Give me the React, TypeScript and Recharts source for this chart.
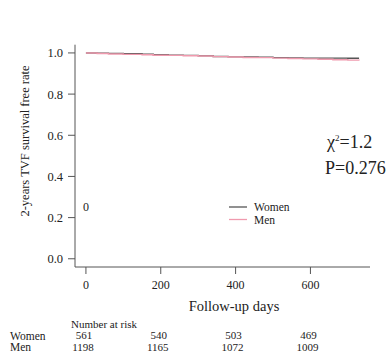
import React from 'react';
import { LineChart, Line, XAxis, YAxis, Legend } from 'recharts';

const days = [0, 30, 60, 100, 150, 180, 220, 260, 300, 340, 380, 420, 460, 500, 540, 580, 620, 660, 700, 730];
const women = [1.0, 0.999, 0.998, 0.996, 0.994, 0.991, 0.989, 0.988, 0.986, 0.983, 0.981, 0.980, 0.979, 0.977, 0.976, 0.975, 0.975, 0.975, 0.974, 0.974];
const men = [1.0, 0.997, 0.995, 0.993, 0.991, 0.989, 0.988, 0.986, 0.985, 0.982, 0.980, 0.978, 0.977, 0.975, 0.973, 0.971, 0.969, 0.967, 0.965, 0.963];
const xTicks = [0, 200, 400, 600];
const yTicks = [0, 0.2, 0.4, 0.6, 0.8, 1.0];
const riskTimes = [0, 200, 400, 600];
const womenRisk = [561, 540, 503, 469];
const menRisk = [1198, 1165, 1072, 1009];

const data = days.map((d, i) => ({ day: d, Women: women[i], Men: men[i] }));

const FONT = '"Liberation Serif", "DejaVu Serif", serif';
const AXIS = '#555';
const TEXT = '#222';
const WOMEN_COLOR = '#555555';
const MEN_COLOR = '#f09aae';

const X_DOMAIN: [number, number] = [-29.2, 759.2];
const PLOT_LEFT = 75;
const PLOT_RIGHT = 370;
const xPos = (v: number) => PLOT_LEFT + ((v - X_DOMAIN[0]) / (X_DOMAIN[1] - X_DOMAIN[0])) * (PLOT_RIGHT - PLOT_LEFT);

const renderLegend = (props: any) => {
  const items = [
    { name: 'Women', color: WOMEN_COLOR },
    { name: 'Men', color: MEN_COLOR },
  ];
  return (
    <svg width={110} height={30} style={{ overflow: 'visible' }}>
      {items.map((it, i) => (
        <g key={it.name}>
          <line x1={4} x2={22} y1={8 + i * 12.5} y2={8 + i * 12.5} stroke={it.color} strokeWidth={1.3} />
          <text x={29} y={8 + i * 12.5} dy="0.35em" fontFamily={FONT} fontSize={11.5} fill={TEXT}>{it.name}</text>
        </g>
      ))}
    </svg>
  );
};

export default function App() {
  return (
    <div style={{ position: 'absolute', left: 0, top: 0, width: 390, height: 353, background: '#fff' }}>
      <LineChart
        width={390}
        height={353}
        data={data}
        margin={{ top: 14.7, right: 20, bottom: 56, left: 0 }}
      >
        <XAxis
          dataKey="day"
          type="number"
          domain={X_DOMAIN}
          allowDataOverflow
          ticks={xTicks}
          height={30}
          tickSize={7}
          tickMargin={6}
          stroke={AXIS}
          tick={{ fontFamily: FONT, fontSize: 12, fill: TEXT }}
        />
        <YAxis
          type="number"
          domain={[-0.04, 1.04]}
          allowDataOverflow
          ticks={yTicks}
          width={75}
          tickSize={7}
          tickMargin={5}
          stroke={AXIS}
          tickFormatter={(v: number) => v.toFixed(1)}
          tick={{ fontFamily: FONT, fontSize: 12.5, fill: TEXT }}
        />
        <Legend
          verticalAlign="top"
          content={renderLegend}
          wrapperStyle={{ position: 'absolute', left: 225, top: 199, width: 110, height: 30 }}
        />
        <Line type="stepAfter" dataKey="Women" stroke={WOMEN_COLOR} strokeWidth={1.4} dot={false} isAnimationActive={false} />
        <Line type="stepAfter" dataKey="Men" stroke={MEN_COLOR} strokeWidth={1.4} dot={false} isAnimationActive={false} />
      </LineChart>
      <svg
        width={390}
        height={353}
        style={{ position: 'absolute', left: 0, top: 0, pointerEvents: 'none' }}
        fontFamily={FONT}
        fill={TEXT}
      >
        <text x={25} y={141} transform="rotate(-90 25 141)" textAnchor="middle" dy="0.35em" fontSize={12.5}>
          2-years TVF  survival free rate
        </text>
        <text x={234} y={306} textAnchor="middle" dy="0.35em" fontSize={14.5}>Follow-up days</text>
        <text x={86} y={207} textAnchor="middle" dy="0.35em" fontSize={12}>0</text>
        <text x={327} y={148} fontSize={18}>
          χ<tspan dy={-7} fontSize={9}>2</tspan><tspan dy={7}>=1.2</tspan>
        </text>
        <text x={325} y={168} dy="0.35em" fontSize={18}>P=0.276</text>
        <text x={71} y={324} dy="0.35em" fontSize={11}>Number at risk</text>
        <text x={10} y={335.5} dy="0.35em" fontSize={11.5}>Women</text>
        <text x={10} y={347} dy="0.35em" fontSize={11.5}>Men</text>
        {riskTimes.map((t, i) => (
          <text key={'w' + t} x={xPos(t) - 2} y={335.5} dy="0.35em" textAnchor="middle" fontSize={11}>{womenRisk[i]}</text>
        ))}
        {riskTimes.map((t, i) => (
          <text key={'m' + t} x={xPos(t) - 3} y={347} dy="0.35em" textAnchor="middle" fontSize={11}>{menRisk[i]}</text>
        ))}
      </svg>
    </div>
  );
}
